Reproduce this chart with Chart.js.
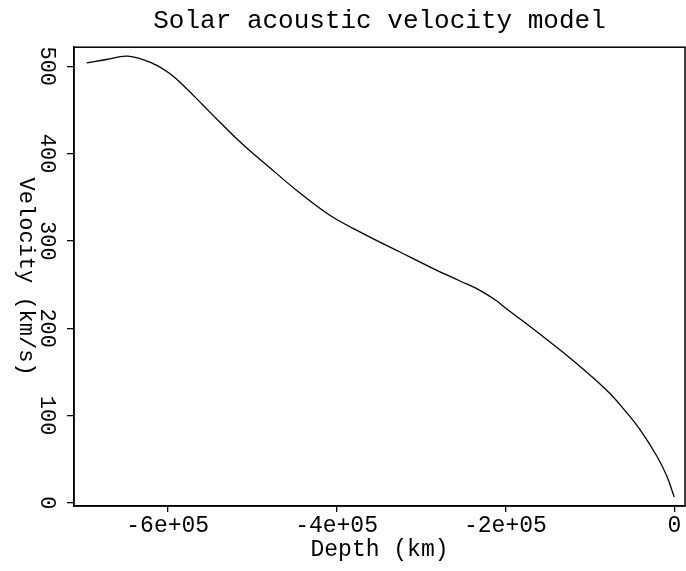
<!DOCTYPE html>
<html lang="en">
<head>
<meta charset="UTF-8">
<script src="https://cdn.jsdelivr.net/npm/chart.js"></script>
<style>
  html, body { margin: 0; padding: 0; background: #ffffff; }
  #chartContainer { width: 686px; height: 571px; }
</style>
</head>
<body>
<div id="chartContainer">
  <canvas id="velocityChart" width="686" height="571"></canvas>
</div>
<script>
// Values
const depthKm = [-696000, -672600, -647000, -617400, -597600, -577800, -558100, -538400,
  -518600, -498900, -487000, -447500, -408000, -368500, -325000, -285600, -253900,
  -230200, -210500, -202600, -178900, -155200, -119700, -80100, -60400, -40600,
  -20900, -9000, 0];
const velocityKms = [503.8, 507.7, 511.5, 503.1, 491.6, 474.5, 455.3, 436.2,
  417.2, 400.0, 390.4, 358.0, 329.3, 308.4, 287.3, 268.3, 254.1,
  243.4, 231.4, 225.1, 207.9, 190.1, 162.7, 128.9, 108.0, 84.0,
  54.0, 31.0, 6.6];
const depthTicks = [-600000, -400000, -200000, 0];
const velocityTicks = [0, 100, 200, 300, 400, 500];

const mono = "'Liberation Mono', monospace";
const ink = '#000000';

// format like -6e+05
const sciLabel = (v) => {
  if (v === 0) return '0';
  const parts = v.toExponential().split('e');
  const exp = parseInt(parts[1], 10);
  const sign = exp < 0 ? '-' : '+';
  return parts[0] + 'e' + sign + String(Math.abs(exp)).padStart(2, '0');
};

// y tick labels and y title are rotated clockwise in the reference
const sideText = {
  id: 'sideText',
  afterDraw(chart) {
    const ctx = chart.ctx;
    const y = chart.scales.y;
    const area = chart.chartArea;
    ctx.save();
    ctx.fillStyle = ink;
    ctx.textAlign = 'center';
    ctx.textBaseline = 'alphabetic';
    ctx.font = '22px ' + mono;
    velocityTicks.forEach(v => {
      const py = y.getPixelForValue(v);
      ctx.save();
      ctx.translate(41, py);
      ctx.rotate(Math.PI / 2);
      ctx.fillText(String(v), 0, 0);
      ctx.restore();
    });
    ctx.translate(20, (area.top + area.bottom) / 2);
    ctx.rotate(Math.PI / 2);
    ctx.fillText('Velocity (km/s)', 0, 0);
    ctx.restore();

    // frame round the plot
    ctx.save();
    ctx.strokeStyle = ink;
    ctx.lineWidth = 1.5;
    ctx.strokeRect(area.left, area.top, area.right - area.left, area.bottom - area.top);
    ctx.restore();
  }
};

const ctx = document.getElementById('velocityChart').getContext('2d');
const chart = new Chart(ctx, {
  type: 'line',
  data: {
    datasets: [{
      label: 'Velocity',
      data: depthKm.map((d, i) => ({ x: d, y: velocityKms[i] })),
      borderColor: ink,
      borderWidth: 1.3,
      pointRadius: 0,
      fill: false,
      tension: 0.4
    }]
  },
  options: {
    responsive: false,
    animation: false,
    devicePixelRatio: 1,
    layout: { padding: { left: 0, right: 1, top: 0, bottom: 0 } },
    scales: {
      x: {
        type: 'linear',
        min: -711000,
        max: 12700,
        afterBuildTicks: s => { s.ticks = depthTicks.map(v => ({ value: v })); },
        afterFit: s => { s.height = 65; },
        grid: { drawOnChartArea: false, drawTicks: true, tickLength: 6, color: ink, lineWidth: 1.3 },
        border: { display: true, color: ink, width: 1.5 },
        ticks: {
          color: ink,
          padding: 0,
          maxRotation: 0,
          font: { family: mono, size: 23 },
          callback: v => sciLabel(v)
        },
        title: {
          display: true,
          text: 'Depth (km)',
          color: ink,
          font: { family: mono, size: 23 },
          padding: { top: 0, bottom: 7 }
        }
      },
      y: {
        type: 'linear',
        min: -3.6,
        max: 521.8,
        afterBuildTicks: s => { s.ticks = velocityTicks.map(v => ({ value: v })); },
        afterFit: s => { s.width = 74; },
        grid: { drawOnChartArea: false, drawTicks: true, tickLength: 7, color: ink, lineWidth: 1.3 },
        border: { display: true, color: ink, width: 1.5 },
        ticks: { display: false }
      }
    },
    plugins: {
      legend: { display: false },
      tooltip: { enabled: false },
      title: {
        display: true,
        fullSize: false,
        text: 'Solar acoustic velocity model',
        color: ink,
        font: { family: mono, size: 26, weight: 'normal' },
        padding: { top: 6, bottom: 10 }
      }
    }
  },
  plugins: [sideText]
});
</script>
</body>
</html>
